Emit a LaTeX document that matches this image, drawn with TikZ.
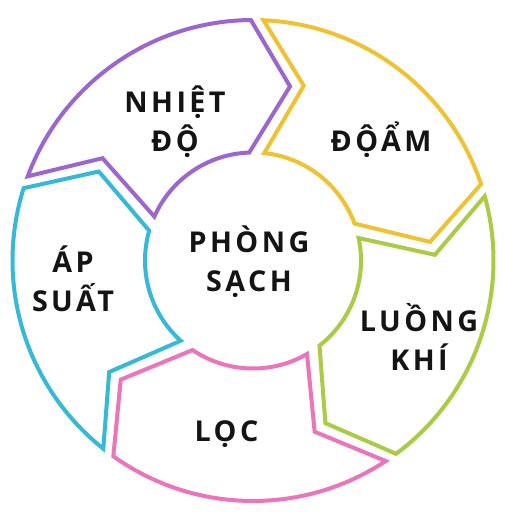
\documentclass[tikz,border=0pt]{standalone}
\usepackage{fontspec}
\newfontfamily\lblfont{Open Sans}[LetterSpace=12]
\definecolor{cpurple}{HTML}{9B66D0}
\definecolor{cyellow}{HTML}{F0C232}
\definecolor{cgreen}{HTML}{AACB44}
\definecolor{cpink}{HTML}{EC74BA}
\definecolor{ccyan}{HTML}{35B9D6}
\newcommand\sst{\rule[-10pt]{0pt}{39pt}}
\newcommand\segpath[2]{%
  \draw[segline, draw=#2]
    (#1+34.5:240.5pt) arc[start angle=#1+34.5, end angle=#1-34.5, radius=240.5pt]
    -- (#1-47:178pt) -- (#1-33:108pt)
    arc[start angle=#1-33, end angle=#1+31, radius=108pt]
    -- (#1+20.8:182pt) -- cycle;}
\tikzset{
  segline/.style={line width=4pt, fill=white, line join=miter},
  lbl/.style={font=\lblfont\bfseries\fontsize{28.7}{39}\selectfont, align=center, inner sep=0pt, text=black!92}
}
\begin{document}
\begin{tikzpicture}[x=1pt,y=1pt]
\useasboundingbox (-253,-251.5) rectangle (251,260.5);
\segpath{125}{cpurple}
\segpath{53}{cyellow}
\segpath{-19}{cgreen}
\segpath{-91}{cpink}
\segpath{-163}{ccyan}
\node[lbl] (t1) at (-78,138.5) {\sst NHIỆT\\\sst ĐỘ};
\node[lbl] (t2) at (128,118.5) {\sst ĐỘẨM};
\node[lbl] (t0) at (-4,-1.5) {\sst PHÒNG\\\sst SẠCH};
\node[lbl] (t5) at (-180,-22) {\sst ÁP\\\sst SUẤT};
\node[lbl] (t3) at (166,-80.5) {\sst LUỒNG\\\sst KHÍ};
\node[lbl] (t4) at (-26.5,-171.5) {\sst LỌC};
\end{tikzpicture}
\end{document}
